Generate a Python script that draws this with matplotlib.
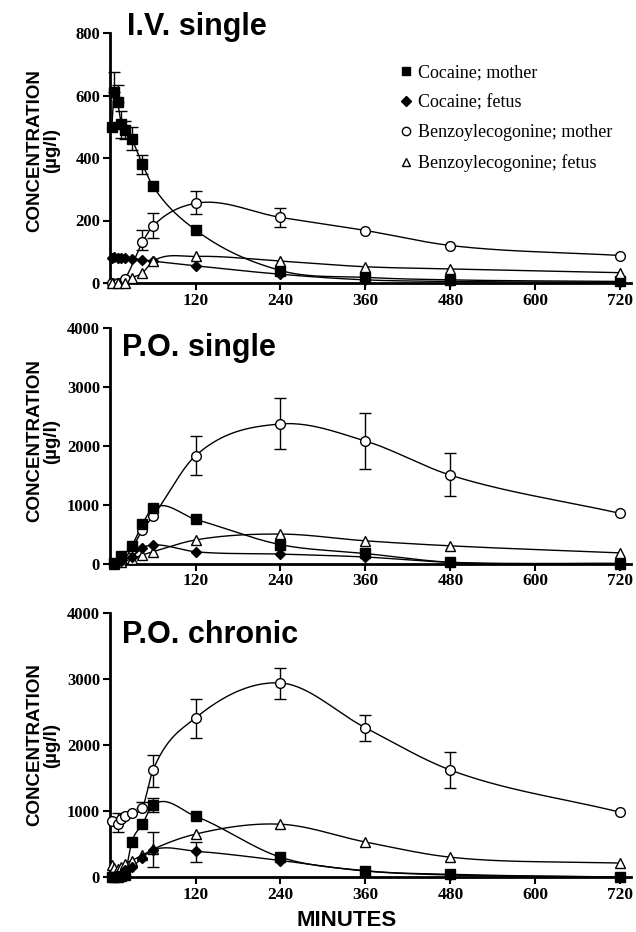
import numpy as np
import matplotlib
matplotlib.use("Agg")
import matplotlib.pyplot as plt
from matplotlib.lines import Line2D

# ---- I.V. single ----
iv_t = [2, 5, 10, 15, 20, 30, 45, 60, 120, 240, 360, 480, 720]
iv_coc_mother = [500, 610, 580, 510, 490, 460, 380, 310, 170, 40, 18, 10, 5]
iv_coc_mother_hi = [0, 65, 55, 40, 30, 40, 30, 0, 0, 0, 0, 0, 0]
iv_coc_mother_lo = [0, 0, 0, 45, 30, 35, 30, 0, 0, 0, 0, 0, 0]
iv_coc_fetus = [80, 82, 80, 80, 80, 78, 74, 70, 55, 28, 10, 5, 2]
iv_be_t = [2, 10, 20, 45, 60, 120, 240, 360, 480, 720]
iv_be_mother = [0, 0, 13, 130, 182, 255, 210, 168, 120, 88]
iv_be_mother_hi = [0, 0, 0, 40, 42, 38, 29, 0, 0, 0]
iv_be_mother_lo = [0, 0, 0, 25, 38, 35, 32, 0, 0, 0]
iv_bef_t = [2, 10, 20, 30, 45, 60, 120, 240, 360, 480, 720]
iv_be_fetus = [0, 0, 0, 16, 32, 70, 85, 70, 52, 45, 33]

# ---- P.O. single ----
pos_t = [5, 15, 30, 45, 60, 120, 240, 360, 480, 720]
pos_coc_mother = [10, 120, 300, 670, 940, 750, 320, 170, 20, 0]
pos_coc_fetus = [0, 50, 110, 265, 315, 200, 160, 110, 20, 0]
pos_be_mother = [0, 30, 250, 570, 800, 1830, 2370, 2080, 1500, 850]
pos_be_mother_hi = [0, 0, 0, 0, 0, 340, 440, 480, 370, 0]
pos_be_mother_lo = [0, 0, 0, 0, 0, 320, 430, 480, 360, 0]
pos_be_fetus = [0, 20, 80, 145, 200, 400, 500, 385, 300, 180]

# ---- P.O. chronic ----
poc_t = [2, 5, 10, 15, 20, 30, 45, 60, 120, 240, 360, 480, 720]
poc_coc_mother = [0, 0, 0, 10, 30, 530, 800, 1090, 920, 300, 95, 40, 0]
poc_coc_mother_hi = [0, 0, 0, 0, 0, 0, 0, 110, 0, 0, 0, 0, 0]
poc_coc_mother_lo = [0, 0, 0, 0, 0, 0, 0, 110, 0, 0, 0, 0, 0]
poc_coc_fetus = [0, 0, 10, 30, 100, 150, 290, 410, 390, 250, 90, 30, 0]
poc_coc_fetus_hi = [0, 0, 0, 0, 0, 0, 0, 270, 140, 0, 0, 0, 0]
poc_coc_fetus_lo = [0, 0, 0, 0, 0, 0, 0, 260, 160, 0, 0, 0, 0]
poc_be_t = [2, 10, 15, 20, 30, 45, 60, 120, 240, 360, 480, 720]
poc_be_mother = [850, 800, 880, 920, 970, 1050, 1620, 2410, 2940, 2260, 1620, 980]
poc_be_mother_hi = [0, 170, 0, 0, 0, 90, 230, 280, 230, 190, 270, 0]
poc_be_mother_lo = [0, 120, 0, 0, 0, 0, 260, 300, 240, 200, 270, 0]
poc_be_fetus = [180, 140, 120, 150, 200, 250, 330, 420, 650, 800, 530, 300, 210]

labels = ["Cocaine; mother", "Cocaine; fetus",
          "Benzoylecogonine; mother", "Benzoylecogonine; fetus"]

SERIF = "Liberation Serif"
SANS = "Liberation Sans"


def smooth(x, y, n=60):
    # cubic hermite curve through the points, for the connecting line only
    x = np.asarray(x, float)
    y = np.asarray(y, float)
    h = np.diff(x)
    d = np.diff(y) / h
    m = np.empty_like(y)
    bessel = (h[1:] * d[:-1] + h[:-1] * d[1:]) / (h[:-1] + h[1:])
    catmull = (y[2:] - y[:-2]) / (x[2:] - x[:-2])
    m[1:-1] = 0.5 * (bessel + catmull)
    m[0] = d[0]
    m[-1] = d[-1]
    xs, ys = [], []
    s = np.linspace(0, 1, n)
    for i in range(len(x) - 1):
        h00 = 2 * s**3 - 3 * s**2 + 1
        h10 = s**3 - 2 * s**2 + s
        h01 = -2 * s**3 + 3 * s**2
        h11 = s**3 - s**2
        xs.append(x[i] + s * h[i])
        ys.append(h00 * y[i] + h10 * h[i] * m[i] + h01 * y[i + 1] + h11 * h[i] * m[i + 1])
    return np.concatenate(xs), np.concatenate(ys)


def series(ax, t, v, marker, face, ms, lo=None, hi=None):
    xs, ys = smooth(t, v)
    ax.plot(xs, ys, color="black", lw=1.0, zorder=2, clip_on=False)
    if lo is not None:
        idx = [i for i in range(len(t)) if lo[i] > 0 or hi[i] > 0]
        ax.errorbar([t[i] for i in idx], [v[i] for i in idx],
                    yerr=[[lo[i] for i in idx], [hi[i] for i in idx]],
                    fmt="none", ecolor="black", elinewidth=1.0,
                    capsize=4, capthick=1.0, zorder=2.5, clip_on=False)
    ax.plot(t, v, linestyle="none", marker=marker, markersize=ms,
            markerfacecolor=face, markeredgecolor="black", markeredgewidth=1.0,
            zorder=3, clip_on=False)


def style(ax, ymax, ystep, title, title_xy, label_y):
    ax.set_xlim(-1, 735)
    ax.set_ylim(0, ymax)
    ax.set_xticks([120, 240, 360, 480, 600, 720])
    ax.set_yticks(np.arange(0, ymax + 1, ystep))
    for sp in ["top", "right"]:
        ax.spines[sp].set_visible(False)
    for sp in ["left", "bottom"]:
        ax.spines[sp].set_linewidth(2.0)
    ax.tick_params(direction="out", length=5, width=1.5, pad=2)
    for lab in ax.get_xticklabels():
        lab.set_fontfamily(SERIF)
        lab.set_fontweight("bold")
        lab.set_fontsize(12.5)
    for lab in ax.get_yticklabels():
        lab.set_fontfamily(SERIF)
        lab.set_fontweight("bold")
        lab.set_fontsize(12)
    ax.text(-0.128, label_y, "CONCENTRATION\n(\u00b5g/l)", transform=ax.transAxes,
            rotation=90, ha="center", va="center", multialignment="center",
            family=SANS, weight="bold", fontsize=13.5, linespacing=0.95)
    fig.text(title_xy[0] / 636, 1 - title_xy[1] / 932, title, family=SANS,
             weight="bold", fontsize=22, va="baseline", ha="left")


fig = plt.figure(figsize=(6.36, 9.32), dpi=100)
L, W = 109.8 / 636, 521.3 / 636
ax1 = fig.add_axes([L, 1 - 283 / 932, W, 250 / 932])
ax2 = fig.add_axes([L, 1 - 563.5 / 932, W, 235.5 / 932])
ax3 = fig.add_axes([L, 1 - 877 / 932, W, 264 / 932])

# panel 1
series(ax1, iv_t, iv_coc_mother, "s", "black", 7, iv_coc_mother_lo, iv_coc_mother_hi)
series(ax1, iv_t, iv_coc_fetus, "D", "black", 5.5)
series(ax1, iv_be_t, iv_be_mother, "o", "white", 7, iv_be_mother_lo, iv_be_mother_hi)
series(ax1, iv_bef_t, iv_be_fetus, "^", "white", 7)
style(ax1, 800, 200, "I.V. single", (127, 35), 0.53)

# panel 2
series(ax2, pos_t, pos_be_mother, "o", "white", 7, pos_be_mother_lo, pos_be_mother_hi)
series(ax2, pos_t, pos_be_fetus, "^", "white", 7)
series(ax2, pos_t, pos_coc_fetus, "D", "black", 5.5)
series(ax2, pos_t, pos_coc_mother, "s", "black", 7)
style(ax2, 4000, 1000, "P.O. single", (122, 356), 0.52)

# panel 3
series(ax3, poc_be_t, poc_be_mother, "o", "white", 7, poc_be_mother_lo, poc_be_mother_hi)
series(ax3, poc_t, poc_be_fetus, "^", "white", 7)
series(ax3, poc_t, poc_coc_fetus, "D", "black", 5.5, poc_coc_fetus_lo, poc_coc_fetus_hi)
series(ax3, poc_t, poc_coc_mother, "s", "black", 7, poc_coc_mother_lo, poc_coc_mother_hi)
style(ax3, 4000, 1000, "P.O. chronic", (122, 643), 0.50)

fig.text(347 / 636, 1 - 921 / 932, "MINUTES", family=SANS, weight="bold",
         fontsize=16, ha="center", va="center")

handles = [
    Line2D([], [], ls="none", marker="s", ms=6, mfc="black", mec="black"),
    Line2D([], [], ls="none", marker="D", ms=5, mfc="black", mec="black"),
    Line2D([], [], ls="none", marker="o", ms=6, mfc="white", mec="black", mew=1.0),
    Line2D([], [], ls="none", marker="^", ms=6, mfc="white", mec="black", mew=1.0),
]
fig.legend(handles, labels, loc="upper left", bbox_to_anchor=(401 / 636, 1 - 64 / 932),
           frameon=False, prop={"family": SERIF, "size": 13}, handlelength=0.6,
           handletextpad=0.35, labelspacing=0.72, borderpad=0, borderaxespad=0)

fig.savefig("out.png", dpi=100)
